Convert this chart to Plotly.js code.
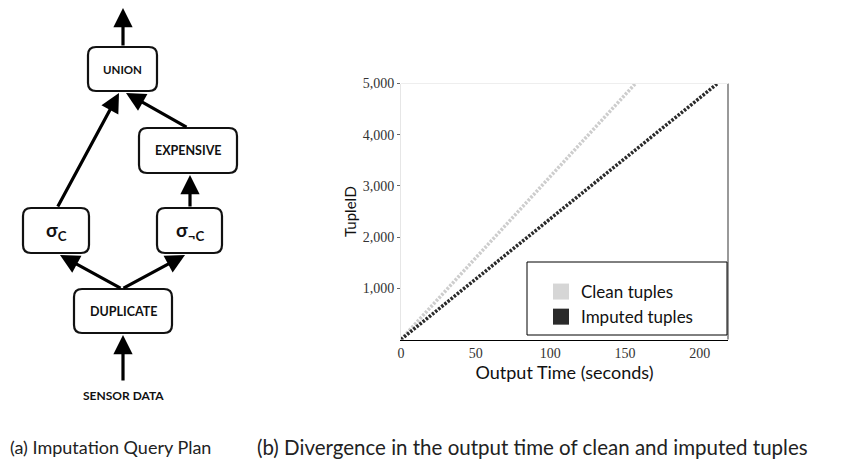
<!DOCTYPE html>
<html>
<head>
<meta charset="utf-8">
<script src="https://cdn.plot.ly/plotly-3.0.1.min.js"></script>
<style>html,body{margin:0;padding:0;background:#fff}#chart{width:847px;height:468px}</style>
</head>
<body>
<div id="chart"></div>
<script>
// ---- Data ----
const cleanTime = [0, 50, 100, 157];
const cleanId = [0, 1600, 3200, 5000];
const imputedTime = [0, 50, 100, 150, 212];
const imputedId = [0, 1180, 2360, 3540, 5000];
const seriesNames = ['Clean tuples', 'Imputed tuples'];
const xTickVals = [0, 50, 100, 150, 200];
const xTickText = ['0', '50', '100', '150', '200'];
const yTickVals = [1000, 2000, 3000, 4000, 5000];
const yTickText = ['1,000', '2,000', '3,000', '4,000', '5,000'];
const xTitle = 'Output Time (seconds)';
const yTitle = 'TupleID';
const captionA = '(a) Imputation Query Plan';
const captionB = '(b) Divergence in the output time of clean and imputed tuples';

// Query-plan diagram nodes (label, box in diagram units)
const planNodes = [
  {label: '<b>UNION</b>', x0: 88, x1: 157, y0: 47, y1: 91, size: 11.5},
  {label: '<b>EXPENSIVE</b>', x0: 139, x1: 237, y0: 128, y1: 173, size: 12.5},
  {label: '<b>σ<sub>C</sub></b>', x0: 23, x1: 89, y0: 208, y1: 253, size: 19},
  {label: '<b>σ<sub>¬C</sub></b>', x0: 157, x1: 222, y0: 208, y1: 253, size: 19},
  {label: '<b>DUPLICATE</b>', x0: 74, x1: 172, y0: 289, y1: 333, size: 12.5}
];
// edges: [tailX, tailY, headX, headY]
const planEdges = [
  [123, 47, 123, 8],
  [57, 208, 119, 93],
  [188, 128, 126, 93],
  [190, 208, 190, 175],
  [122, 289, 60, 255],
  [122, 289, 185, 255],
  [123, 382, 123, 335]
];

const colors = ['#cdcdcd', '#2a2a2a'];
const W = 847, H = 468;
const sans = 'Lato, "Open Sans", sans-serif';
const serif = '"Liberation Serif", "DejaVu Serif", serif';

const traces = [
  {x: cleanTime, y: cleanId, mode: 'lines', showlegend: false, hoverinfo: 'skip',
   line: {color: colors[0], width: 3.5, dash: '2.5px,1.5px'}},
  {x: imputedTime, y: imputedId, mode: 'lines', showlegend: false, hoverinfo: 'skip',
   line: {color: colors[1], width: 3.5, dash: '2.5px,1.5px'}},
  {x: [null], y: [null], mode: 'markers', name: seriesNames[0],
   marker: {symbol: 'square', size: 16, color: '#d6d6d6'}},
  {x: [null], y: [null], mode: 'markers', name: seriesNames[1],
   marker: {symbol: 'square', size: 16, color: colors[1]}}
];

function roundRect(x0, y0, x1, y1, r) {
  return `M${x0+r},${y0} L${x1-r},${y0} Q${x1},${y0} ${x1},${y0+r} L${x1},${y1-r} Q${x1},${y1} ${x1-r},${y1} ` +
         `L${x0+r},${y1} Q${x0},${y1} ${x0},${y1-r} L${x0},${y0+r} Q${x0},${y0} ${x0+r},${y0} Z`;
}

const shapes = [];
const annotations = [];
planNodes.forEach(n => {
  shapes.push({type: 'path', xref: 'x2', yref: 'y2', path: roundRect(n.x0, n.y0, n.x1, n.y1, 8),
    line: {color: '#111', width: 2.2}, fillcolor: '#fff'});
  annotations.push({xref: 'x2', yref: 'y2', x: (n.x0 + n.x1) / 2, y: (n.y0 + n.y1) / 2,
    text: n.label, showarrow: false, font: {family: sans, size: n.size, color: '#111'}});
});
planEdges.forEach(e => {
  annotations.push({xref: 'x2', yref: 'y2', axref: 'x2', ayref: 'y2', x: e[2], y: e[3], ax: e[0], ay: e[1],
    text: '', showarrow: true, arrowhead: 2, arrowsize: 1.2, arrowwidth: 3.2, arrowcolor: '#000'});
});
annotations.push({xref: 'x2', yref: 'y2', x: 123, y: 395, text: '<b>SENSOR DATA</b>', showarrow: false,
  font: {family: sans, size: 12, color: '#111'}});

// chart frame details
shapes.push({type: 'line', xref: 'x domain', yref: 'y domain', x0: 1, x1: 1, y0: 0, y1: 1,
  line: {color: '#999', width: 2}});
shapes.push({type: 'line', xref: 'x domain', yref: 'y domain', x0: 0, x1: 1, y0: 1, y1: 1,
  line: {color: '#eee', width: 1}});
// legend frame
shapes.push({type: 'rect', xref: 'paper', yref: 'paper', x0: 527 / W, x1: 727 / W, y0: 1 - 335 / H, y1: 1 - 262 / H,
  line: {color: '#000', width: 1}, fillcolor: '#fff', layer: 'above'});

// captions & titles
annotations.push({xref: 'paper', yref: 'paper', x: 8 / W, y: 1 - 447 / H, xanchor: 'left', yanchor: 'middle',
  text: captionA, showarrow: false, font: {family: sans, size: 18, color: '#222'}});
annotations.push({xref: 'paper', yref: 'paper', x: 255 / W, y: 1 - 447 / H, xanchor: 'left', yanchor: 'middle',
  text: captionB, showarrow: false, font: {family: sans, size: 20.5, color: '#222'}});

const layout = {
  width: W, height: H,
  margin: {l: 0, r: 0, t: 0, b: 0},
  paper_bgcolor: '#fff', plot_bgcolor: '#fff',
  showlegend: true,
  legend: {x: 541 / W, y: 1 - 274 / H, xanchor: 'left', yanchor: 'top', bgcolor: 'rgba(0,0,0,0)',
    borderwidth: 0, font: {family: sans, size: 17, color: '#111'}, tracegroupgap: 0},
  xaxis: {domain: [401 / W, 728 / W], range: [0, 219], tickvals: xTickVals, ticktext: xTickText,
    showgrid: false, zeroline: false, showline: true, linecolor: '#000', linewidth: 1.5, ticks: '',
    tickfont: {family: serif, size: 14, color: '#333'},
    title: {text: xTitle, font: {family: sans, size: 18, color: '#111'}, standoff: 2}},
  yaxis: {domain: [1 - 339.5 / H, 1 - 83.5 / H], range: [0, 5000], tickvals: yTickVals, ticktext: yTickText,
    showgrid: false, zeroline: false, showline: true, linecolor: '#e6e6e6', linewidth: 1,
    ticks: 'outside', ticklen: 3, tickcolor: '#666',
    tickfont: {family: serif, size: 14, color: '#333'},
    title: {text: yTitle, font: {family: sans, size: 15, color: '#111'}, standoff: 2}},
  xaxis2: {domain: [0, 260 / W], range: [0, 260], visible: false, fixedrange: true, anchor: 'y2'},
  yaxis2: {domain: [1 - 420 / H, 1], range: [420, 0], visible: false, fixedrange: true, anchor: 'x2'},
  shapes: shapes,
  annotations: annotations
};

Plotly.newPlot('chart', traces, layout, {staticPlot: true, displayModeBar: false});
</script>
</body>
</html>
